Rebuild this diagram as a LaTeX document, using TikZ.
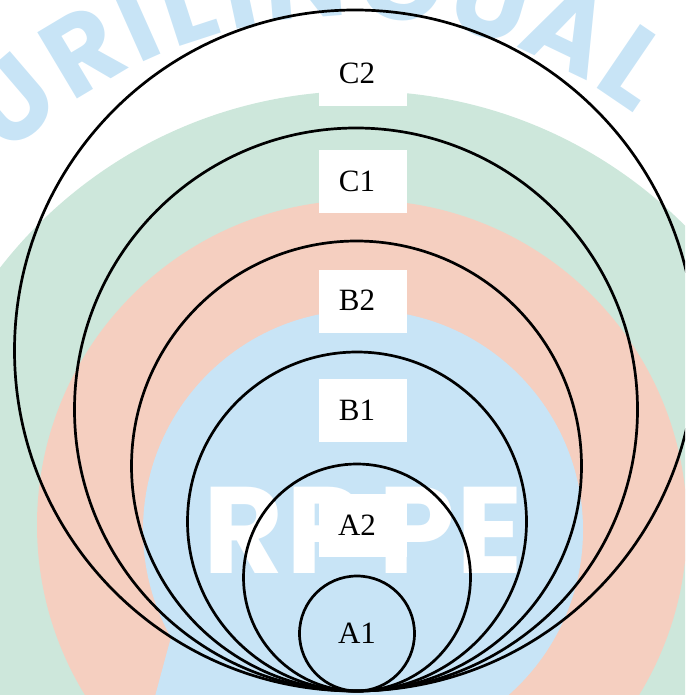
\documentclass[tikz,border=0pt]{standalone}
\usepackage{fontspec}
\setmainfont{Liberation Serif}
\newfontfamily\wmfont{Poppins}
\usetikzlibrary{calc}
\definecolor{wmblue}{HTML}{C8E4F6}
\definecolor{bggreen}{HTML}{CDE7DB}
\definecolor{bgsalmon}{HTML}{F5CFC0}
\begin{document}
\begin{tikzpicture}[x=1pt,y=-1pt,
  ring/.style={draw=black, line width=2.7pt},
  labbox/.style={fill=white, minimum width=88pt, minimum height=63pt, inner sep=0pt},
  labtext/.style={inner sep=0pt, font=\fontsize{31}{36}\selectfont},
  wm/.style={text=wmblue, font=\wmfont\bfseries\fontsize{110}{110}\selectfont, inner sep=0pt, anchor=base},
  logo/.style={text=white, font=\wmfont\bfseries\fontsize{123}{123}\selectfont, inner sep=0pt, anchor=base}]
\useasboundingbox (0,0) rectangle (685,695);
\begin{scope}
\clip (0,0) rectangle (685,695);
% background logo
\fill[bggreen] (361,548) circle[radius=457];
\fill[bgsalmon] (362,525) circle[radius=325];
\fill[wmblue] (363,530) circle[radius=220];
\fill[wmblue] (172,634) .. controls (166,655) and (160,678) .. (154,700) -- (300,700) -- (300,640) -- cycle;
\coordinate (wc) at (346,493);
\foreach \a/\t [count=\i] in {-40.6/U,-30.85/R,-24.05/I,-18.05/L,-12.05/I,-4.6/N,6.2/G,16.4/U,25.6/A,34.2/L}
  \node[wm, rotate=-\a] (wm\i) at ($(wc)+(\a-90:476)$) {\t};
\node[logo] (lr) at (244,573) {R};
\node[logo] (lp1) at (325,573) {P};
\node[logo] (lp2) at (417,573) {P};
\node[logo] (le) at (490,573) {E};
% nested circles, all touching at the bottom
\draw[ring] (355,350.5) circle[radius=340.5];
\draw[ring] (356,409.5) circle[radius=281.5];
\draw[ring] (356.5,466) circle[radius=225];
\draw[ring] (357,521.5) circle[radius=169.5];
\draw[ring] (357,577.5) circle[radius=113.5];
\draw[ring] (357,633.5) circle[radius=57.5];
\end{scope}
% label boxes and labels
\node[labbox] (c2box) at (363,74.5) {};
\node[labbox] (c1box) at (363,181.5) {};
\node[labbox] (b2box) at (363,301) {};
\node[labbox] (b1box) at (363,410) {};
\node[labbox] (a2box) at (363,525) {};
\node[labtext] (c2) at (357,73) {C2};
\node[labtext] (c1) at (357,181) {C1};
\node[labtext] (b2) at (357,300) {B2};
\node[labtext] (b1) at (357,410) {B1};
\node[labtext] (a2) at (357,525) {A2};
\node[labtext] (a1) at (357,633) {A1};
\end{tikzpicture}
\end{document}
